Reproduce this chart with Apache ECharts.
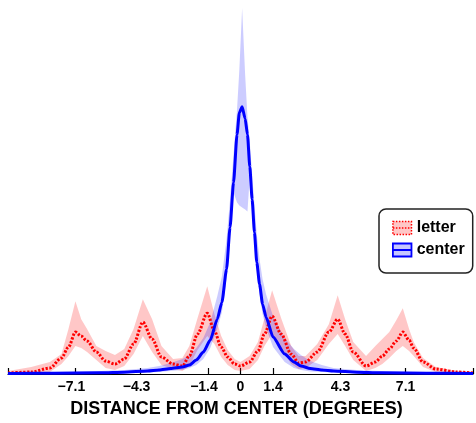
<!DOCTYPE html>
<html>
<head>
<meta charset="utf-8">
<script src="https://cdn.jsdelivr.net/npm/echarts@6/dist/echarts.min.js"></script>
<style>
    html, body { margin: 0; padding: 0; background: #fff; }
    #chart { width: 476px; height: 423px; }
</style>
</head>
<body>
<div id="chart"></div>
<script>
// tick positions (degrees)
var tickValues = [-7.1, -4.3, -1.4, 0, 1.4, 4.3, 7.1];

// center condition: mean and band (lower / upper)
var centerX = [-10, -8, -6, -5, -4, -3.5, -3, -2.5, -2.2, -1.9, -1.6, -1.3, -1.0, -0.8, -0.6, -0.45, -0.3, -0.15, -0.05, 0.07, 0.2, 0.3, 0.4, 0.5, 0.6, 0.7, 0.82, 0.95, 1.1, 1.4, 1.9, 2.3, 2.6, 3, 3.5, 4, 5, 6, 8, 10];
var centerMean = [0.5, 0.8, 1.2, 1.8, 3, 4, 5.5, 7, 9, 14, 22, 34, 55, 72, 105, 147, 192, 240, 262, 268, 256, 240, 208, 175, 142, 112, 90, 70, 57, 37, 20, 12, 8, 5.5, 4, 3, 1.8, 1.2, 0.8, 0.5];
var centerLow = [0, 0, 0.5, 1, 1.5, 2, 3, 4, 6, 9, 15, 26, 45, 62, 95, 140, 182, 172, 169, 167, 165, 163, 198, 165, 133, 104, 80, 60, 46, 27, 12, 6, 4, 2.5, 2, 1.5, 1, 0.5, 0, 0];
var centerHigh = [1.5, 2, 3, 4, 6, 8, 11, 15, 19, 26, 36, 52, 78, 98, 135, 175, 220, 265, 305, 367, 300, 258, 232, 200, 170, 140, 115, 95, 80, 58, 36, 25, 19, 13, 9, 6, 4, 3, 2, 1.5];

// letter condition: mean and band (lower / upper)
var letterX = [-10, -9, -8.2, -7.7, -7.4, -7.1, -6.85, -6.6, -6.2, -5.8, -5.4, -5.0, -4.6, -4.2, -3.8, -3.4, -2.9, -2.5, -2.2, -1.85, -1.43, -1.12, -0.83, -0.55, -0.25, 0, 0.39, 0.75, 1.03, 1.36, 1.75, 2.18, 2.5, 2.8, 3.3, 3.8, 4.18, 4.5, 4.85, 5.4, 5.8, 6.1, 6.4, 6.7, 6.98, 7.25, 7.45, 7.85, 8.4, 9.3, 10];
var letterMean = [1, 2, 6, 16, 27, 42, 38, 33, 22, 13, 10, 15, 30, 52, 35, 17, 10, 8, 18, 40, 61, 43, 27, 17, 10, 8, 12, 23, 40, 58, 40, 20, 11, 12, 22, 42, 55, 40, 22, 8, 12, 18, 25, 33, 42, 34, 26, 12, 5, 2, 1];
var letterLow = [0, 0, 2, 10, 18, 28, 26, 22, 14, 6, 4, 8, 20, 38, 22, 9, 5, 3, 8, 24, 38, 30, 17, 9, 4, 3, 5, 14, 28, 40, 26, 10, 5, 6, 14, 30, 40, 28, 14, 3, 6, 10, 16, 23, 28, 23, 18, 7, 2, 0, 0];
var letterHigh = [3, 7, 12, 20, 45, 73, 55, 45, 28, 23, 19, 25, 45, 75, 55, 28, 15, 16, 28, 56, 88, 60, 38, 24, 15, 12, 18, 32, 56, 84, 56, 28, 18, 18, 30, 50, 79, 55, 32, 18, 28, 35, 42, 54, 66, 45, 32, 16, 7, 3, 2];

function pairs(xs, ys) {
    return xs.map(function(x, i) { return [x, ys[i]]; });
}

// shaded band between low and high, drawn as one polygon through the axes
function bandSeries(name, xs, low, high, fill) {
    return {
        name: name,
        type: 'custom',
        silent: true,
        itemStyle: { color: fill },
        data: [[0, 0]],
        renderItem: function(params, api) {
            var pts = [];
            for (var i = 0; i < xs.length; i++) {
                pts.push(api.coord([xs[i], high[i]]));
            }
            for (var j = xs.length - 1; j >= 0; j--) {
                pts.push(api.coord([xs[j], low[j]]));
            }
            return {
                type: 'polygon',
                shape: { points: pts },
                style: { fill: fill }
            };
        }
    };
}

var chart = echarts.init(document.getElementById('chart'));
var iconPath = 'path://M0 0H20V14H0ZM0 7H20';
var option = {
    animation: false,
    textStyle: { fontFamily: 'Liberation Sans, Arial, sans-serif' },
    grid: { left: 8, right: 3, top: 0, bottom: 48 },
    legend: {
        orient: 'vertical',
        left: 379,
        top: 209,
        padding: [11, 8, 15, 13],
        itemGap: 6,
        itemWidth: 19,
        itemHeight: 13,
        backgroundColor: '#fff',
        borderColor: '#222',
        borderWidth: 1.5,
        borderRadius: 7,
        textStyle: { fontSize: 16, fontWeight: 'bold', color: '#000', fontFamily: 'Liberation Sans, Arial, sans-serif' },
        data: [
            { name: 'letter', icon: iconPath, itemStyle: { color: 'rgba(255,0,0,0.22)', borderColor: '#ff0000', borderWidth: 1.5, borderType: [1.5, 1.5] } },
            { name: 'center', icon: iconPath, itemStyle: { color: 'rgba(0,0,255,0.22)', borderColor: '#0000ff', borderWidth: 1.8 } }
        ]
    },
    xAxis: {
        type: 'value',
        min: -10,
        max: 10,
        name: 'DISTANCE FROM CENTER (DEGREES)',
        nameLocation: 'middle',
        nameGap: 26,
        nameTextStyle: { fontSize: 18, fontWeight: 'bold', color: '#000', padding: [0, 8, 0, 0] },
        splitLine: { show: false },
        axisLine: { lineStyle: { color: '#000', width: 1.2 } },
        axisTick: {
            inside: true,
            length: 6,
            customValues: [-10].concat(tickValues).concat([10]),
            lineStyle: { color: '#000', width: 1.2 }
        },
        axisLabel: {
            customValues: tickValues,
            margin: 6,
            color: '#000',
            fontSize: 14,
            fontWeight: 'bold',
            formatter: function(v) {
                if (v < 0) return '{n|\u2212' + Math.abs(v) + '}';
                return '{p|' + v + '}';
            },
            rich: {
                n: { fontSize: 14, fontWeight: 'bold', color: '#000', padding: [0, 8, 0, 0] },
                p: { fontSize: 14, fontWeight: 'bold', color: '#000' }
            }
        }
    },
    yAxis: {
        type: 'value',
        min: 0,
        max: 375,
        show: false
    },
    series: [
        bandSeries('letter', letterX, letterLow, letterHigh, 'rgba(255,0,0,0.22)'),
        bandSeries('center', centerX, centerLow, centerHigh, 'rgba(0,0,255,0.2)'),
        {
            name: 'letter mean',
            type: 'line',
            data: pairs(letterX, letterMean),
            showSymbol: false,
            silent: true,
            smooth: 0.3,
            smoothMonotone: 'x',
            lineStyle: { color: '#ff0000', width: 3, type: [2.2, 1.6], cap: 'butt' }
        },
        {
            name: 'center mean',
            type: 'line',
            data: pairs(centerX, centerMean),
            showSymbol: false,
            silent: true,
            smooth: 0.2,
            smoothMonotone: 'x',
            lineStyle: { color: '#0000ff', width: 3 }
        }
    ]
};
chart.setOption(option);
</script>
</body>
</html>
